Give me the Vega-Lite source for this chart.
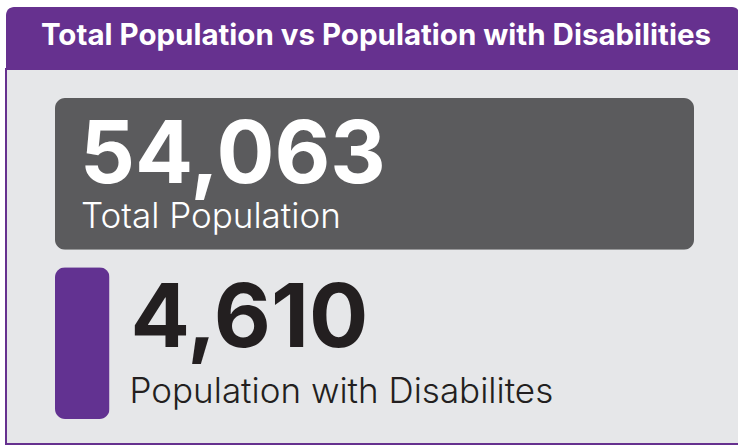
{
  "$schema": "https://vega.github.io/schema/vega-lite/v6.json",
  "background": "white",
  "padding": {"left": 5, "top": 7, "right": 0, "bottom": 0},
  "spacing": 0,
  "config": {"view": {"stroke": null}, "font": "Inter"},
  "vconcat": [
    {
      "data": {"values": [{"t": "Total Population vs Population with Disabilities"}]},
      "width": 734,
      "height": 61,
      "layer": [
        {
          "mark": {"type": "rect", "color": "#66318f", "cornerRadiusTopLeft": 8, "cornerRadiusTopRight": 8},
          "encoding": {}
        },
        {
          "mark": {"type": "text", "color": "white", "font": "Inter", "fontWeight": "bold", "fontSize": 29.5, "align": "center", "baseline": "alphabetic", "dy": 7, "dx": 3},
          "encoding": {"text": {"field": "t"}}
        }
      ]
    },
    {
      "data": {"values": [
        {"label": "Total Population", "value": 54063},
        {"label": "Population with Disabilites", "value": 4610}
      ]},
      "width": 734,
      "height": 375,
      "view": {"fill": "#e6e7e9", "stroke": "#66318f", "strokeWidth": 2, "cornerRadius": 0},
      "encoding": {
        "y": {"field": "label", "type": "nominal", "sort": null, "axis": null,
              "scale": {"domain": ["Total Population", "Population with Disabilites"], "range": [29, 350], "paddingInner": 0.104, "paddingOuter": 0}}
      },
      "layer": [
        {
          "mark": {"type": "bar", "cornerRadius": 10},
          "encoding": {
            "x": {"field": "value", "type": "quantitative", "axis": null, "scale": {"domain": [0, 54063], "range": [49, 688], "zero": true, "nice": false}},
            "color": {"field": "label", "type": "nominal", "legend": null,
                      "scale": {"domain": ["Total Population", "Population with Disabilites"], "range": ["#5b5b5d", "#623291"]}}
          }
        },
        {
          "transform": [{"filter": "datum.label === 'Total Population'"}],
          "mark": {"type": "text", "align": "left", "baseline": "alphabetic", "color": "white", "font": "Inter", "fontWeight": "bold", "fontSize": 86, "dx": 25, "dy": 9},
          "encoding": {
            "x": {"datum": 0, "type": "quantitative"},
            "text": {"field": "value", "type": "quantitative", "format": ","}
          }
        },
        {
          "transform": [{"filter": "datum.label === 'Total Population'"}],
          "mark": {"type": "text", "align": "left", "baseline": "alphabetic", "color": "white", "font": "Inter", "fontWeight": 300, "fontSize": 35, "dx": 26, "dy": 54},
          "encoding": {
            "x": {"datum": 0, "type": "quantitative"},
            "text": {"field": "label"}
          }
        },
        {
          "transform": [{"filter": "datum.label !== 'Total Population'"}],
          "mark": {"type": "text", "align": "left", "baseline": "alphabetic", "color": "#231f20", "font": "Inter", "fontWeight": "bold", "fontSize": 88, "dx": 21, "dy": 4},
          "encoding": {
            "x": {"field": "value", "type": "quantitative"},
            "text": {"field": "value", "type": "quantitative", "format": ","}
          }
        },
        {
          "transform": [{"filter": "datum.label !== 'Total Population'"}],
          "mark": {"type": "text", "align": "left", "baseline": "alphabetic", "color": "#231f20", "font": "Inter", "fontWeight": 300, "fontSize": 35, "dx": 20, "dy": 60},
          "encoding": {
            "x": {"field": "value", "type": "quantitative"},
            "text": {"field": "label"}
          }
        }
      ]
    }
  ]
}
